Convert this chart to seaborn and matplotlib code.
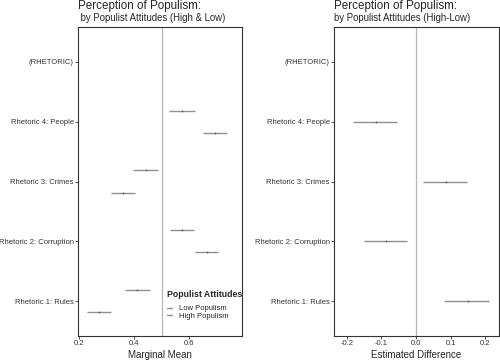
import matplotlib
matplotlib.use("Agg")
import matplotlib.pyplot as plt
from matplotlib.lines import Line2D
import seaborn as sns
import pandas as pd

# categories, top to bottom
categories = ["(RHETORIC)", "Rhetoric 4: People", "Rhetoric 3: Crimes",
              "Rhetoric 2: Corruption", "Rhetoric 1: Rules"]
rows = ["Rhetoric 4: People", "Rhetoric 3: Crimes",
        "Rhetoric 2: Corruption", "Rhetoric 1: Rules"]

# marginal means (left panel)
high_est = [0.575, 0.444, 0.575, 0.411]
high_lo = [0.527, 0.396, 0.531, 0.367]
high_hi = [0.622, 0.487, 0.618, 0.458]
low_est = [0.695, 0.360, 0.665, 0.273]
low_lo = [0.651, 0.316, 0.622, 0.229]
low_hi = [0.738, 0.404, 0.705, 0.316]

# estimated difference High-Low (right panel)
diff_est = [-0.116, 0.087, -0.087, 0.150]
diff_lo = [-0.182, 0.020, -0.150, 0.081]
diff_hi = [-0.055, 0.147, -0.026, 0.211]

left_ticks = [0.2, 0.4, 0.6]
right_ticks = [-0.2, -0.1, 0.0, 0.1, 0.2]

sns.set_theme(style="white")
plt.rcParams["font.family"] = ["Liberation Sans", "DejaVu Sans"]

pos = {c: i for i, c in enumerate(categories)}
dodge = {"High Populism": -0.185, "Low Populism": 0.185}

mm = pd.concat([
    pd.DataFrame({"rhetoric": rows, "group": "Low Populism",
                  "est": low_est, "lo": low_lo, "hi": low_hi}),
    pd.DataFrame({"rhetoric": rows, "group": "High Populism",
                  "est": high_est, "lo": high_lo, "hi": high_hi}),
], ignore_index=True)
mm["y"] = mm["rhetoric"].map(pos) + mm["group"].map(dodge)

dd = pd.DataFrame({"rhetoric": rows, "est": diff_est, "lo": diff_lo, "hi": diff_hi})
dd["y"] = dd["rhetoric"].map(pos)

line_col = "#8f8f8f"
dot_col = "#555555"

fig = plt.figure(figsize=(5, 3.61), dpi=100)
ax1 = fig.add_axes([78 / 500, 25 / 361, 164 / 500, 309 / 361])
ax2 = fig.add_axes([334 / 500, 25 / 361, 165 / 500, 309 / 361])


def style_axis(ax):
    ax.set_yticks(range(len(categories)))
    ax.set_yticklabels(categories)
    ax.set_ylim(4.58, -0.58)
    ax.set_ylabel("")
    for s in ax.spines.values():
        s.set_color("#333333")
        s.set_linewidth(0.8)
    ax.tick_params(axis="both", which="major", length=2, width=0.6, pad=1,
                   labelsize=5.5, colors="#333333", bottom=True, left=True)
    ax.grid(False)


# left panel
ax1.axvline(0.5, color="#b5b5b5", lw=0.9, zorder=1)
ax1.hlines(mm["y"], mm["lo"], mm["hi"], color=line_col, lw=1.0, zorder=2)
sns.scatterplot(data=mm, x="est", y="y", ax=ax1, color=dot_col, s=1.5,
                linewidth=0, legend=False, zorder=3)
ax1.set_xlim(0.196, 0.793)
ax1.set_xticks(left_ticks)
ax1.set_xticklabels([f"{t:.1f}" for t in left_ticks])
ax1.set_xlabel("Marginal Mean", fontsize=7, labelpad=2)
style_axis(ax1)

handles = [Line2D([], [], color=line_col, lw=1.0, label="Low Populism"),
           Line2D([], [], color=line_col, lw=1.0, label="High Populism")]
leg = ax1.legend(handles=handles, title="Populist Attitudes", loc="upper left",
                 bbox_to_anchor=(0.52, 0.16), frameon=False, fontsize=5.5,
                 title_fontproperties={"weight": "bold", "size": 6.3},
                 handlelength=0.6, handletextpad=0.9, labelspacing=0.05,
                 borderpad=0, alignment="left")
leg._legend_box.sep = 4

# right panel
ax2.axvline(0.0, color="#b5b5b5", lw=0.9, zorder=1)
ax2.hlines(dd["y"], dd["lo"], dd["hi"], color=line_col, lw=1.0, zorder=2)
sns.scatterplot(data=dd, x="est", y="y", ax=ax2, color=dot_col, s=1.5,
                linewidth=0, legend=False, zorder=3)
ax2.set_xlim(-0.237, 0.24)
ax2.set_xticks(right_ticks)
ax2.set_xticklabels([f"{t:.1f}" for t in right_ticks])
ax2.set_xlabel("Estimated Difference", fontsize=7, labelpad=2)
style_axis(ax2)

# titles
fig.text(78 / 500, 1 - 8.5 / 361, "Perception of Populism:", fontsize=8.4,
         va="baseline", ha="left")
fig.text(78 / 500, 1 - 21.3 / 361, " by Populist Attitudes (High & Low)",
         fontsize=6.9, va="baseline", ha="left")
fig.text(334 / 500, 1 - 8.5 / 361, "Perception of Populism:", fontsize=8.4,
         va="baseline", ha="left")
fig.text(334 / 500, 1 - 21.3 / 361, "by Populist Attitudes (High-Low)",
         fontsize=6.9, va="baseline", ha="left")

fig.savefig("out.png", dpi=100)
